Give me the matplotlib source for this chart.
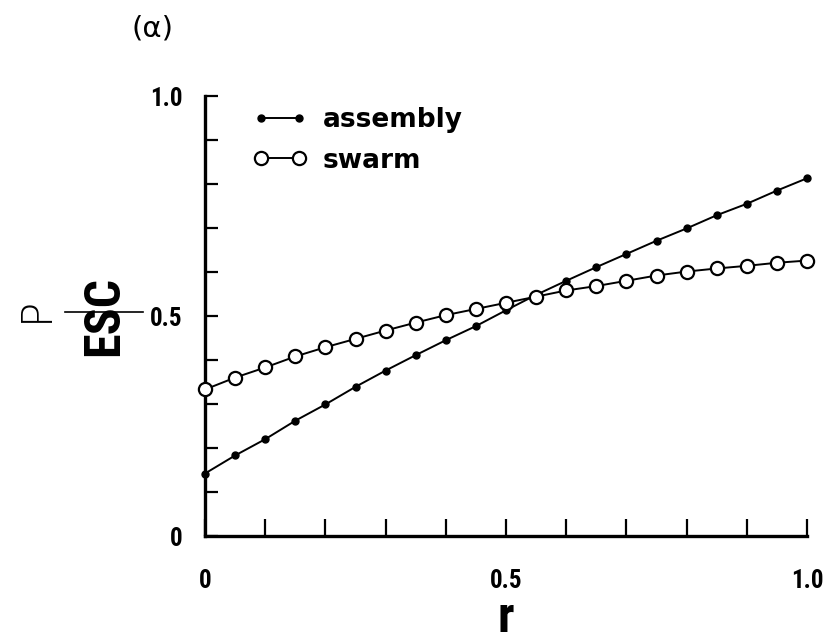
import matplotlib
matplotlib.use("Agg")
import matplotlib.pyplot as plt
from matplotlib.lines import Line2D

# ---- data ----
r_values = [0.00, 0.05, 0.10, 0.15, 0.20, 0.25, 0.30, 0.35, 0.40, 0.45, 0.50,
            0.55, 0.60, 0.65, 0.70, 0.75, 0.80, 0.85, 0.90, 0.95, 1.00]
assembly = [0.142, 0.183, 0.220, 0.262, 0.299, 0.339, 0.376, 0.411, 0.445, 0.477, 0.513,
            0.548, 0.580, 0.611, 0.641, 0.671, 0.699, 0.729, 0.755, 0.785, 0.813]
swarm = [0.333, 0.360, 0.383, 0.408, 0.429, 0.448, 0.467, 0.485, 0.502, 0.516, 0.530,
         0.544, 0.558, 0.568, 0.580, 0.592, 0.601, 0.608, 0.614, 0.621, 0.626]
tick_pos = [0.0, 0.1, 0.2, 0.3, 0.4, 0.5, 0.6, 0.7, 0.8, 0.9, 1.0]
tick_labels = ["0", "", "", "", "", "0.5", "", "", "", "", "1.0"]
series_names = ["assembly", "swarm"]

NARROW = ["Roboto Condensed", "DejaVu Sans Condensed", "Liberation Sans Narrow",
          "Open Sans Condensed", "DejaVu Sans"]

W, H = 823, 643
fig = plt.figure(figsize=(W / 100, H / 100), dpi=100)
ax = fig.add_axes([205 / W, 1 - 536 / H, (807 - 205) / W, (536 - 96) / H])

ax.plot(r_values, assembly, color="black", lw=1.4, marker="o", ms=5,
        mfc="black", mec="black", clip_on=False, label=series_names[0], zorder=3)
ax.plot(r_values, swarm, color="black", lw=1.4, marker="o", ms=9.5,
        mfc="white", mec="black", mew=1.6, clip_on=False, label=series_names[1], zorder=4)

ax.set_xlim(0, 1.0)
ax.set_ylim(0, 1.0)
for s in ["top", "right"]:
    ax.spines[s].set_visible(False)
for s in ["left", "bottom"]:
    ax.spines[s].set_linewidth(2.4)

ax.set_xticks(tick_pos)
ax.set_xticklabels(tick_labels)
ax.set_yticks(tick_pos)
ax.set_yticklabels(tick_labels)
ax.tick_params(axis="x", direction="in", length=12, width=1.6, pad=24)
ax.tick_params(axis="y", direction="in", length=9, width=1.6, pad=16)
for lab in ax.get_xticklabels() + ax.get_yticklabels():
    lab.set_fontfamily(NARROW)
    lab.set_fontstretch("condensed")
    lab.set_fontweight("bold")
    lab.set_fontsize(18)

leg = ax.legend(loc="upper left", bbox_to_anchor=(0.08, 0.975), frameon=False,
                numpoints=2, handlelength=2.05, handletextpad=0.6,
                labelspacing=0.55, borderpad=0, borderaxespad=0,
                prop={"family": "DejaVu Sans", "weight": "bold", "size": 19})

# axis labels
fig.text(506 / W, 1 - 642 / H, "r", ha="center", va="bottom",
         fontsize=36, fontweight="bold", family=NARROW, fontstretch="condensed")
fig.text(105 / W, 1 - 316 / H, "ESC", ha="center", va="center", rotation=90,
         fontsize=36, fontweight="bold", family=NARROW, fontstretch="condensed")
fig.text(35 / W, 1 - 309 / H, "P", ha="center", va="center", rotation=90,
         fontsize=30, fontweight="light", family="DejaVu Sans")
fig.add_artist(Line2D([65 / W, 143 / W], [1 - 312 / H, 1 - 312 / H],
                      transform=fig.transFigure, color="black", lw=1.2))

# panel label
fig.text(153 / W, 1 - 28 / H, "(α)", ha="center", va="center",
         fontsize=21, family="DejaVu Sans")

fig.savefig("out.png", dpi=100)
